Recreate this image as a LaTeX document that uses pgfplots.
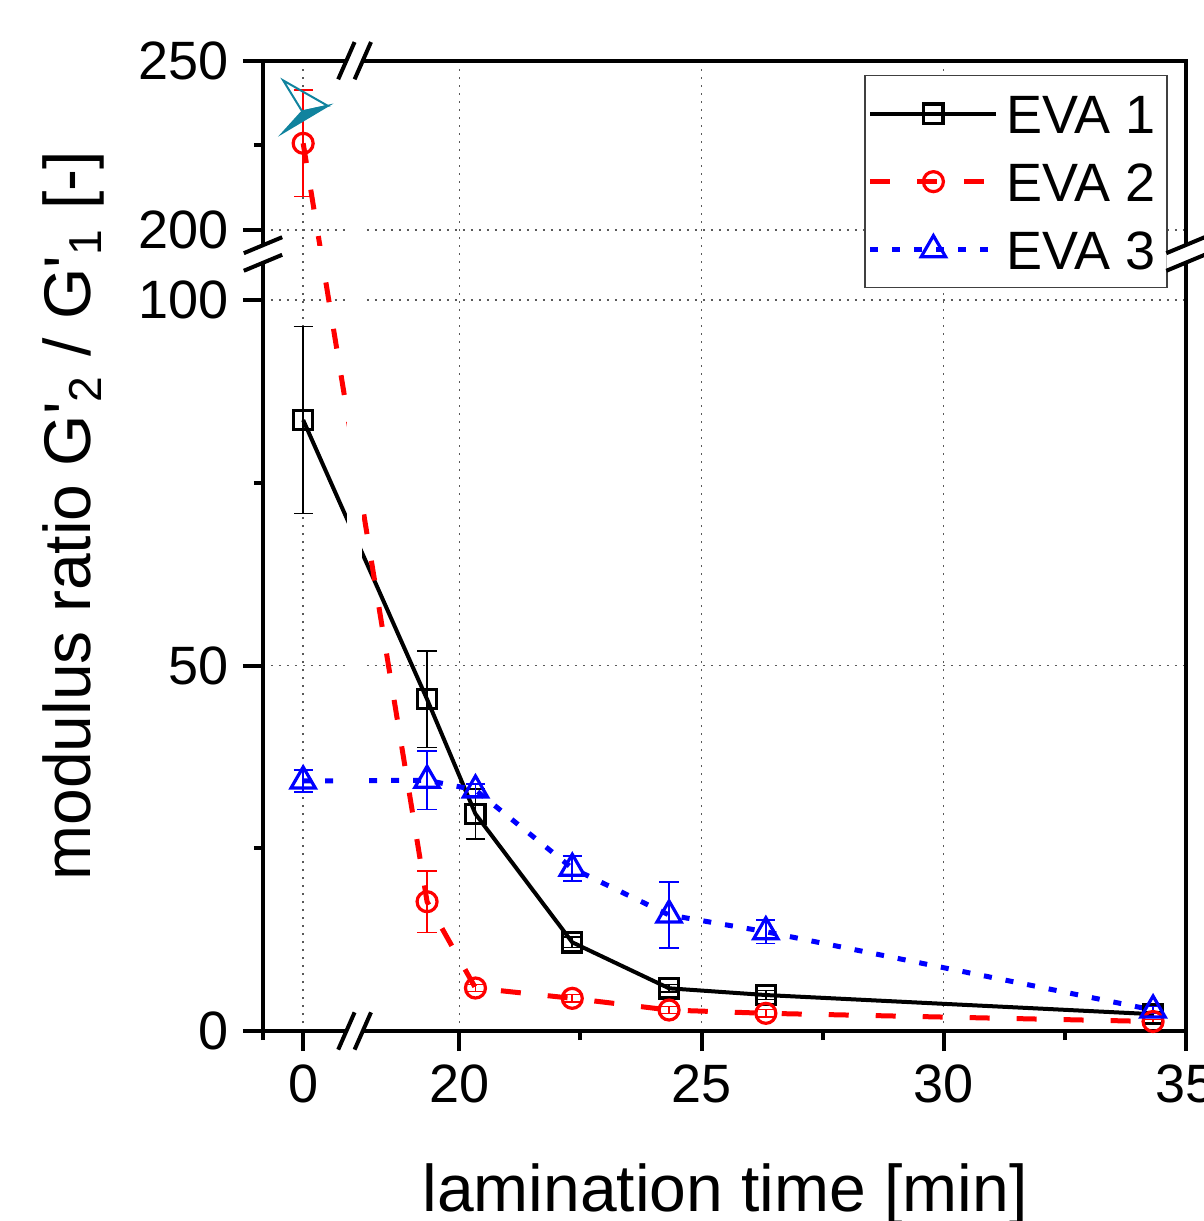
\documentclass[border=0pt]{standalone}
\usepackage{fontspec}
\setmainfont{Liberation Sans}
\usepackage{pgfplots}
\pgfplotsset{compat=1.18}
\usepackage{pgfplotstable}
\definecolor{evateal}{RGB}{16,131,158}

% axis scales: x (time) right of the break is linear, t=0 is placed at u=16.77
% y: 0-100 linear (v=y); 200-250 mapped to v = 109.58 + (y-200)*0.4632
\pgfplotstableread{
t     v      e
16.77 83.58  12.8
19.33 45.38  6.6
20.33 29.69  3.4
22.33 12.13  0.7
24.33 5.84   0.5
26.33 4.92   0.6
34.33 2.30   0.3
}\evaone
\pgfplotstableread{
t     v      e
16.77 121.44 7.3
19.33 17.69  4.2
20.33 5.88   0.5
22.33 4.47   0.5
24.33 2.87   0.5
26.33 2.42   0.5
34.33 1.30   0.3
}\evatwo
\pgfplotstableread{
t     v      e
16.77 34.20  1.5
19.33 34.30  4.0
20.33 32.97  0.8
22.33 22.26  1.7
24.33 15.87  4.55
26.33 13.58  1.6
34.33 2.87   0.5
}\evathree

\pgfdeclareplotmark{tealarrow}{%
  \pgfpathmoveto{\pgfpoint{0pt}{0pt}}%
  \pgfpathlineto{\pgfpoint{-4.75pt}{7.75pt}}%
  \pgfpathlineto{\pgfpoint{6.4pt}{1.4pt}}%
  \pgfpathclose
  \pgfusepathqstroke
  \pgfpathmoveto{\pgfpoint{0pt}{0pt}}%
  \pgfpathlineto{\pgfpoint{6.4pt}{1.4pt}}%
  \pgfpathlineto{\pgfpoint{-4.75pt}{-5.25pt}}%
  \pgfpathclose
  \pgfusepathqfillstroke
}

\newcommand\xbreak[2]{%
  \begin{scope}[shift={(#1pt,#2pt)}]
    \fill[white] (-4.1pt,-4.66pt) -- (0pt,-4.66pt) -- (4.1pt,4.66pt) -- (0pt,4.66pt) -- cycle;
    \draw[line width=1pt] (-4.1pt,-4.66pt) -- (0pt,4.66pt) (0pt,-4.66pt) -- (4.1pt,4.66pt);
  \end{scope}}
\newcommand\ybreak[2]{%
  \begin{scope}[shift={(#1pt,#2pt)}]
    \fill[white] (-4.8pt,-4.2pt) -- (4.8pt,-0.2pt) -- (4.8pt,4.2pt) -- (-4.8pt,0.2pt) -- cycle;
    \draw[line width=1pt] (-4.8pt,0.2pt) -- (4.8pt,4.2pt) (-4.8pt,-4.2pt) -- (4.8pt,-0.2pt);
  \end{scope}}

\begin{document}
\begin{tikzpicture}
\begin{axis}[
  name=ax, at={(0pt,0pt)}, anchor=south west,
  scale only axis, width=230.625pt, height=242.575pt,
  xmin=15.94, xmax=35, ymin=0, ymax=132.74,
  xtick={16.77,20,25,30,35}, xticklabels={0,20,25,30,35},
  minor xtick={15.94,22.5,27.5,32.5},
  ytick={0,50,100,109.58,132.74}, yticklabels={0,50,100,200,250},
  minor ytick={25,75,121.16},
  xtick pos=bottom, ytick pos=left,
  tick align=outside, major tick length=5pt, minor tick length=2.3pt,
  tick style={black, line width=1pt},
  axis line style={line width=1pt},
  grid=major,
  grid style={black!65, line width=0.45pt, dash pattern=on 0.45pt off 1.55pt},
  ticklabel style={font=\fontsize{13.5}{16}\selectfont},
  label style={font=\fontsize{16.5}{20}\selectfont},
  xlabel={lamination time [min]},
  xlabel style={at={(axis description cs:0.5008,-0.1865)}, anchor=base},
  ylabel={modulus ratio G\textquotesingle\textsubscript{2} / G\textquotesingle\textsubscript{1} [-]},
  ylabel style={at={(axis description cs:-0.1865,0.531)}, anchor=base, rotate=0},
  legend style={at={(axis description cs:0.9807,0.9853)}, anchor=north east,
    draw=black!75, line width=0.35pt, fill=white,
    font=\fontsize{13.5}{16}\selectfont,
    inner xsep=0.75pt, inner ysep=1pt, row sep=0pt,
    nodes={inner sep=2pt, text height=11.4pt, text depth=1.6pt}},
  legend cell align=left,
  legend image code/.code={%
    \draw[mark repeat=2, mark phase=2, #1] plot coordinates {(0pt,0pt) (15.75pt,0pt) (31.5pt,0pt)};},
  error bars/error bar style={line width=0.4pt, solid},
  error bars/error mark options={rotate=90, line width=0.4pt, mark size=2.4pt, solid},
]
\addplot[black, line width=1pt, mark=square, mark size=2.4pt,
  mark options={solid, fill=white, line width=0.8pt},
  error bars/.cd, y dir=both, y explicit]
  table[x=t, y=v, y error=e] {\evaone};
\addlegendentry{EVA 1}
\addplot[red, line width=1.25pt, dash pattern=on 5pt off 6.75pt, mark=o, mark size=2.5pt,
  mark options={solid, fill=white, line width=0.8pt},
  error bars/.cd, y dir=both, y explicit]
  table[x=t, y=v, y error=e] {\evatwo};
\addlegendentry{EVA 2}
\addplot[blue, line width=1.25pt, dash pattern=on 2pt off 3.5pt, mark=triangle, mark size=3.5pt,
  mark options={solid, fill=white, line width=0.8pt},
  error bars/.cd, y dir=both, y explicit]
  table[x=t, y=v, y error=e] {\evathree};
\addlegendentry{EVA 3}
% off-scale indicator
\addplot[forget plot, only marks, mark=tealarrow, draw=evateal, fill=evateal,
  mark options={line width=0.5pt, fill=evateal}] coordinates {(16.75,125.8)};
% gaps of the data lines at the axis breaks
\fill[white] (axis cs:17.68,0) rectangle (axis cs:17.99,132.74);
\fill[white] (axis cs:16.95,104.9) rectangle (axis cs:18.5,107.4);
\end{axis}
% axis break marks
\xbreak{22.9}{0}
\xbreak{22.9}{242.575}
\ybreak{0}{194.25}
\ybreak{230.625}{194.25}
\pgfresetboundingbox
\path[use as bounding box] (-65.75pt,-47.5pt) rectangle (235pt,257.75pt);
\end{tikzpicture}
\end{document}
